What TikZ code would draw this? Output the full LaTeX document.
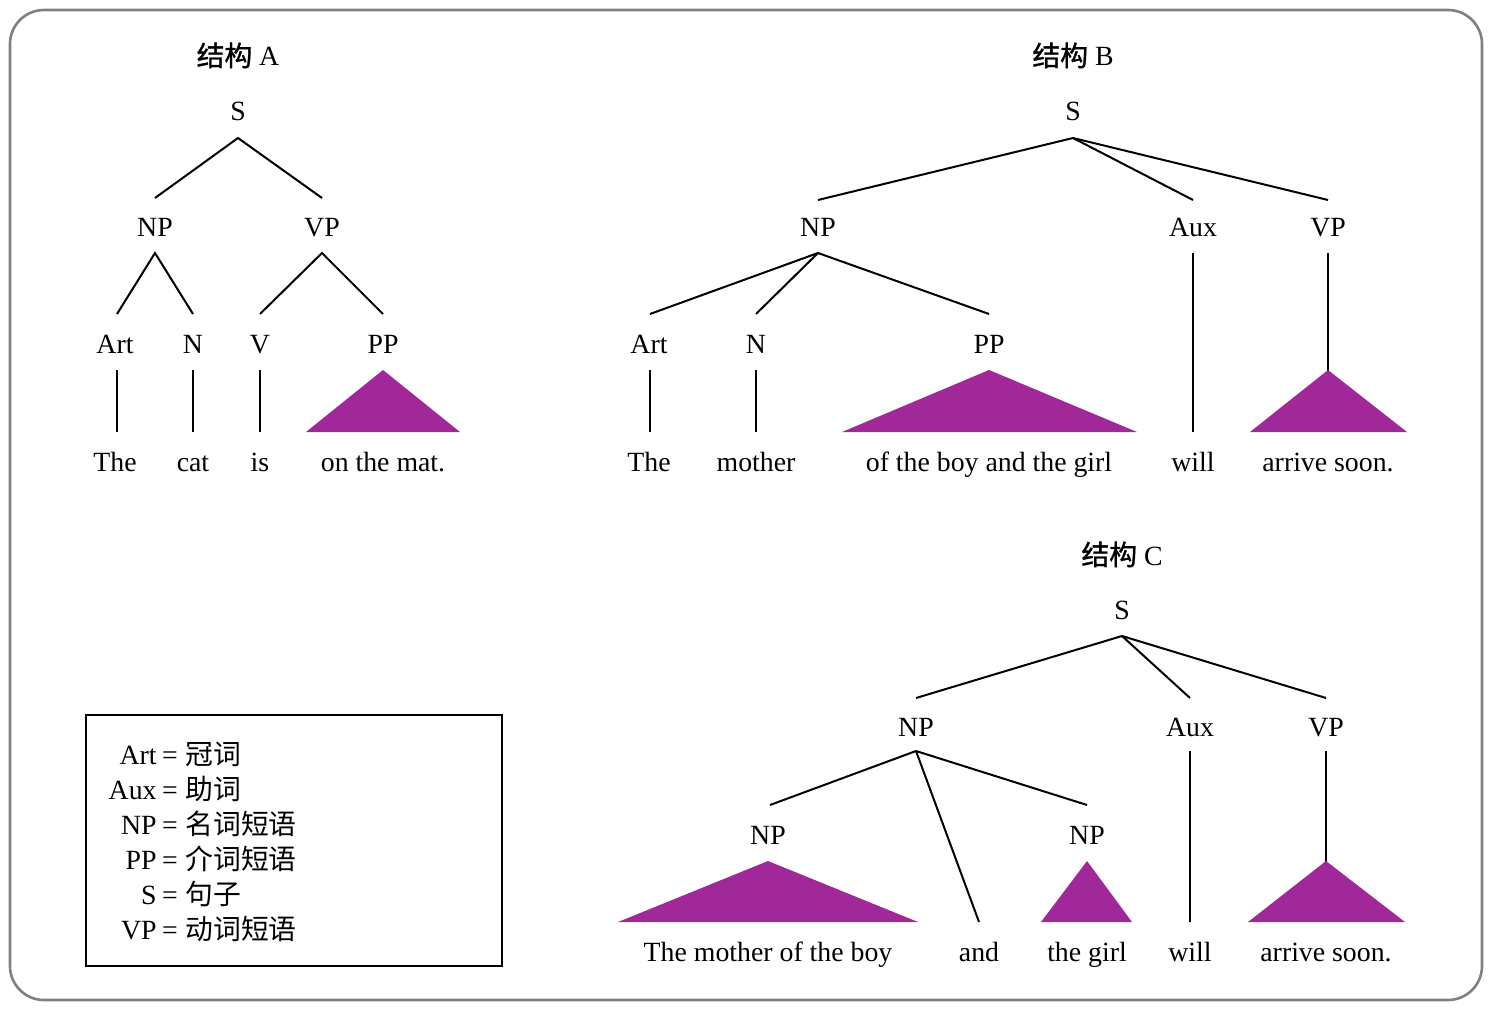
\documentclass[tikz,border=0pt]{standalone}
\usepackage{fontspec}
\setmainfont{Liberation Serif}
\newfontfamily\cjk{Noto Sans CJK SC}
\newfontfamily\cjkt[FakeBold=1.2]{Noto Sans CJK SC}
\definecolor{tri}{RGB}{160,40,152}
\definecolor{frame}{RGB}{128,128,128}
\begin{document}
\begin{tikzpicture}[x=0.5pt,y=-0.5pt,
  lab/.style={font=\fontsize{13.9}{16}\selectfont, inner sep=0pt, anchor=base},
  ttl/.style={font=\fontsize{13.9}{16}\selectfont, inner sep=0pt, anchor=base},
  br/.style={line width=1pt, black},
  trif/.style={fill=tri, draw=none}]
\useasboundingbox (0,0) rectangle (1492,1010);
\draw[frame, line width=1.3pt, rounded corners=17pt] (10,10) rectangle (1482,1000);

% ===== Tree A =====
\node[ttl] (tA) at (238,66) {{\cjkt 结构} A};
\node[lab] (aS) at (238,121) {S};
\node[lab] (aNP) at (155,237) {NP};
\node[lab] (aVP) at (322,237) {VP};
\node[lab] (aArt) at (115,354) {Art};
\node[lab] (aN) at (193,354) {N};
\node[lab] (aV) at (260,354) {V};
\node[lab] (aPP) at (383,354) {PP};
\node[lab] (aw1) at (115,471) {The};
\node[lab] (aw2) at (193,471) {cat};
\node[lab] (aw3) at (260,471) {is};
\node[lab] (aw4) at (383,471) {on the mat.};
\coordinate (aSb) at (238,138);
\coordinate (aNPt) at (155,198); \coordinate (aVPt) at (322,198);
\coordinate (aNPb) at (155,253); \coordinate (aVPb) at (322,253);
\draw[br] (aNPt) -- (aSb) -- (aVPt);
\draw[br] (117,314) -- (aNPb) -- (193,314);
\draw[br] (260,314) -- (aVPb) -- (383,314);
\draw[br] (117,370) -- (117,432);
\draw[br] (193,370) -- (193,432);
\draw[br] (260,370) -- (260,432);
\fill[trif] (383,370) -- (460,432) -- (306,432) -- cycle;

% ===== Tree B =====
\node[ttl] (tB) at (1073,66) {{\cjkt 结构} B};
\node[lab] (bS) at (1073,121) {S};
\node[lab] (bNP) at (818,237) {NP};
\node[lab] (bAux) at (1193,237) {Aux};
\node[lab] (bVP) at (1328,237) {VP};
\node[lab] (bArt) at (649,354) {Art};
\node[lab] (bN) at (756,354) {N};
\node[lab] (bPP) at (989,354) {PP};
\node[lab] (bw1) at (649,471) {The};
\node[lab] (bw2) at (756,471) {mother};
\node[lab] (bw3) at (989,471) {of the boy and the girl};
\node[lab] (bw4) at (1193,471) {will};
\node[lab] (bw5) at (1328,471) {arrive soon.};
\coordinate (bSb) at (1073,138);
\draw[br] (bSb) -- (818,200);
\draw[br] (bSb) -- (1193,200);
\draw[br] (bSb) -- (1328,200);
\coordinate (bNPb) at (818,253);
\draw[br] (bNPb) -- (650,314);
\draw[br] (bNPb) -- (756,314);
\draw[br] (bNPb) -- (989,314);
\draw[br] (1193,253) -- (1193,432);
\draw[br] (1328,253) -- (1328,372);
\draw[br] (650,370) -- (650,432);
\draw[br] (756,370) -- (756,432);
\fill[trif] (989,370) -- (1137,432) -- (842,432) -- cycle;
\fill[trif] (1328,370) -- (1407,432) -- (1250,432) -- cycle;

% ===== Tree C =====
\node[ttl] (tC) at (1122,565) {{\cjkt 结构} C};
\node[lab] (cS) at (1122,619) {S};
\node[lab] (cNP) at (916,736) {NP};
\node[lab] (cAux) at (1190,736) {Aux};
\node[lab] (cVP) at (1326,736) {VP};
\node[lab] (cNP1) at (768,844) {NP};
\node[lab] (cNP2) at (1087,844) {NP};
\node[lab] (cw1) at (768,961) {The mother of the boy};
\node[lab] (cw2) at (979,961) {and};
\node[lab] (cw3) at (1087,961) {the girl};
\node[lab] (cw4) at (1190,961) {will};
\node[lab] (cw5) at (1326,961) {arrive soon.};
\coordinate (cSb) at (1122,636);
\draw[br] (cSb) -- (916,698);
\draw[br] (cSb) -- (1190,698);
\draw[br] (cSb) -- (1326,698);
\coordinate (cNPb) at (916,751);
\draw[br] (cNPb) -- (770,805);
\draw[br] (cNPb) -- (979,922);
\draw[br] (cNPb) -- (1087,805);
\draw[br] (1190,751) -- (1190,922);
\draw[br] (1326,751) -- (1326,863);
\fill[trif] (768,861) -- (918,922) -- (618,922) -- cycle;
\fill[trif] (1087,861) -- (1132,922) -- (1041,922) -- cycle;
\fill[trif] (1326,861) -- (1405,922) -- (1248,922) -- cycle;

% ===== Legend =====
\draw[line width=1pt] (86,715) rectangle (502,966);
\foreach \ab/\cn/\yy [count=\i] in {Art/冠词/755, Aux/助词/790, NP/名词短语/825, PP/介词短语/860, S/句子/895, VP/动词短语/930}{
  \node[lab, anchor=base east] (lgA\i) at (157,\yy+9) {\ab};
  \node[lab] (lgE\i) at (170,\yy+9) {=};
  \node[lab, anchor=base west] (lgC\i) at (185,\yy+9) {\cjk\cn};
}
\end{tikzpicture}
\end{document}
